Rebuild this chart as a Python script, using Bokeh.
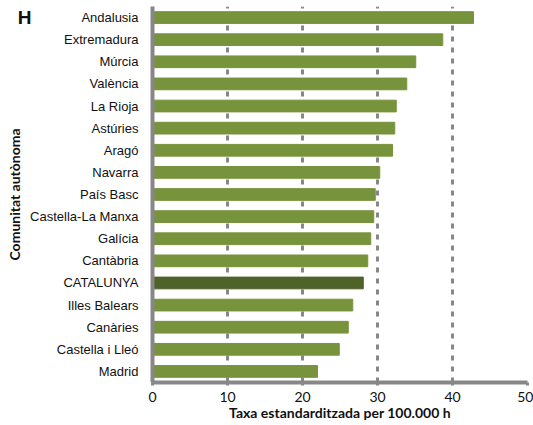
from bokeh.plotting import figure
from bokeh.models import (FactorRange, Range1d, FixedTicker, CategoricalAxis, ColumnDataSource)
from bokeh.embed import file_html
from bokeh.resources import INLINE

# Data (top to bottom as in the reference)
regions = ["Andalusia", "Extremadura", "Múrcia", "València", "La Rioja", "Astúries",
           "Aragó", "Navarra", "País Basc", "Castella-La Manxa", "Galícia", "Cantàbria",
           "CATALUNYA", "Illes Balears", "Canàries", "Castella i Lleó", "Madrid"]
rates = [42.8, 38.7, 35.1, 33.9, 32.5, 32.3, 32.0, 30.3, 29.7, 29.5, 29.1, 28.7,
         28.1, 26.7, 26.1, 24.9, 22.0]
highlight = "CATALUNYA"
x_ticks = [0, 10, 20, 30, 40, 50]
x_title = "Taxa estandarditzada per 100.000 h"
y_title = "Comunitat autònoma"
panel_letter = "H"

GREEN = "#77933C"
DARK = "#4F6228"
GRAY = "#878787"
TXT = "#111111"

colors = [DARK if r == highlight else GREEN for r in regions]
src = ColumnDataSource(dict(y=regions, right=rates, color=colors))

p = figure(width=533, height=425, output_backend="svg", toolbar_location=None,
           y_range=FactorRange(factors=list(reversed(regions)), range_padding=0),
           x_range=Range1d(0, 50),
           min_border_left=152, min_border_right=6, min_border_top=6, min_border_bottom=43)
p.outline_line_color = None
p.background_fill_color = "white"
p.border_fill_color = "white"

p.hbar(y="y", right="right", left=0, height=0.53, color="color", source=src)

# grid
p.ygrid.grid_line_color = None
p.xgrid.grid_line_color = GRAY
p.xgrid.grid_line_width = 3
p.xgrid.grid_line_dash = "5 6"
p.xaxis.ticker = FixedTicker(ticks=x_ticks)

# x axis
xa = p.xaxis[0]
xa.axis_line_color = GRAY
xa.axis_line_width = 4
xa.major_tick_line_color = GRAY
xa.major_tick_line_width = 3
xa.major_tick_out = 3
xa.major_tick_in = 0
xa.minor_tick_line_color = None
xa.major_label_standoff = 6
xa.major_label_text_font = "Lato"
xa.major_label_text_font_size = "14px"
xa.major_label_text_color = TXT
xa.axis_label = x_title
xa.axis_label_standoff = -1
xa.axis_label_text_font = "Lato"
xa.axis_label_text_font_style = "bold"
xa.axis_label_text_font_size = "14px"
xa.axis_label_text_color = TXT

# y axis (categories)
ya = p.yaxis[0]
ya.axis_line_color = GRAY
ya.axis_line_width = 4
ya.major_tick_line_color = None
ya.minor_tick_line_color = None
ya.major_label_standoff = 8
ya.major_label_text_font = "Liberation Sans"
ya.major_label_text_font_size = "13px"
ya.major_label_text_color = TXT

# outer left axis: its own factor range whose top factor is the panel letter,
# the other rows carry invisible zero-width factors; it also carries the y title
n = len(regions)
outer_factors = ["\u200b" * k for k in range(1, n)] + [panel_letter]
p.extra_y_ranges = {"letter": FactorRange(factors=outer_factors, range_padding=0)}
outer = CategoricalAxis(y_range_name="letter")
outer.axis_line_color = None
outer.major_tick_line_color = None
outer.minor_tick_line_color = None
outer.major_tick_out = 0
outer.major_tick_in = 0
outer.major_label_standoff = -4
outer.major_label_text_font = "Liberation Sans"
outer.major_label_text_font_style = "bold"
outer.major_label_text_font_size = "19px"
outer.major_label_text_color = TXT
outer.axis_label = y_title
outer.axis_label_standoff = -8
outer.axis_label_text_font = "Lato"
outer.axis_label_text_font_style = "bold"
outer.axis_label_text_font_size = "14px"
outer.axis_label_text_color = TXT
p.add_layout(outer, "left")

open("out.html", "w").write(file_html(p, INLINE))
